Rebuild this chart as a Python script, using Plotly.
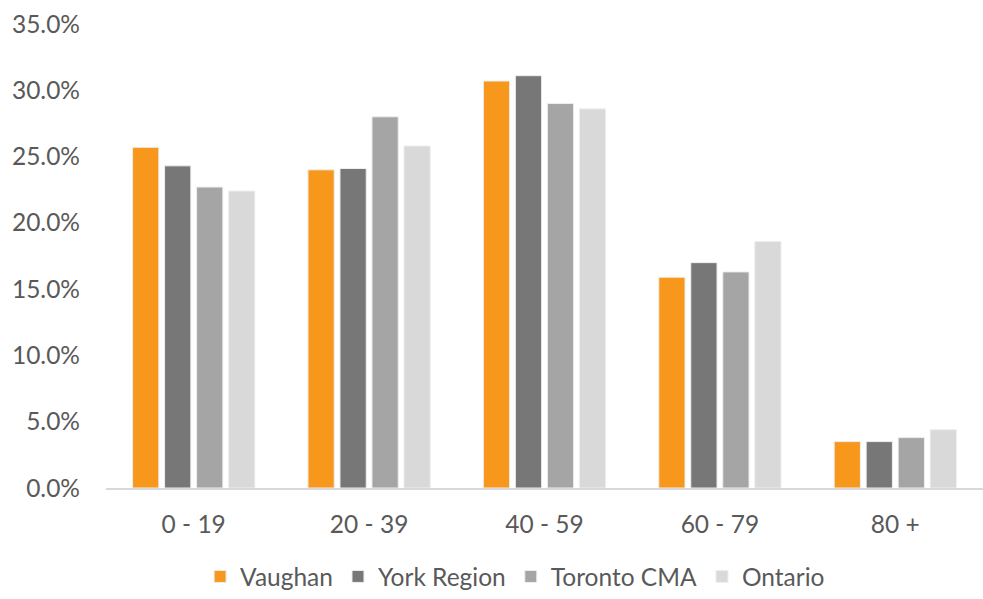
import plotly.graph_objects as go

categories = ["0 - 19", "20 - 39", "40 - 59", "60 - 79", "80 +"]
vaughan = [25.7, 24.0, 30.7, 15.9, 3.5]
york_region = [24.3, 24.1, 31.1, 17.0, 3.5]
toronto_cma = [22.7, 28.0, 29.0, 16.3, 3.8]
ontario = [22.4, 25.8, 28.6, 18.6, 4.4]

series = [
    ("Vaughan", vaughan, "#F7981D"),
    ("York Region", york_region, "#777777"),
    ("Toronto CMA", toronto_cma, "#A5A5A5"),
    ("Ontario", ontario, "#D9D9D9"),
]

FONT = "Lato, Calibri, Carlito, sans-serif"
FS = 24.5
fig = go.Figure()
for name, vals, col in series:
    fig.add_trace(go.Bar(
        x=categories, y=[v / 100 for v in vals], name=name,
        marker=dict(color=col, line=dict(color="#EEEEEE", width=1)),
    ))

fig.update_layout(
    width=983, height=599,
    margin=dict(l=106, r=0, t=24, b=111),
    paper_bgcolor="white", plot_bgcolor="white",
    barmode="group", bargap=0.27, bargroupgap=0.18,
    font=dict(family=FONT, size=FS, color="#595959"),
    showlegend=True,
    legend=dict(
        orientation="h", xref="container", yref="container",
        x=0.524, xanchor="center", y=0.0, yanchor="bottom",
        font=dict(size=FS, color="#595959"),
        itemwidth=30, traceorder="normal",
    ),
    xaxis=dict(
        showgrid=False, showline=True, linecolor="#D9D9D9", linewidth=2,
        ticks="", ticklabelstandoff=14,
        tickfont=dict(size=FS, color="#595959"),
    ),
    yaxis=dict(
        range=[0, 0.35], tickvals=[i * 0.05 for i in range(8)],
        tickformat=".1%", showgrid=False, zeroline=False, showline=False,
        ticks="", ticklabelstandoff=25,
        tickfont=dict(size=FS, color="#595959"),
    ),
)

fig.write_html("out.html")
